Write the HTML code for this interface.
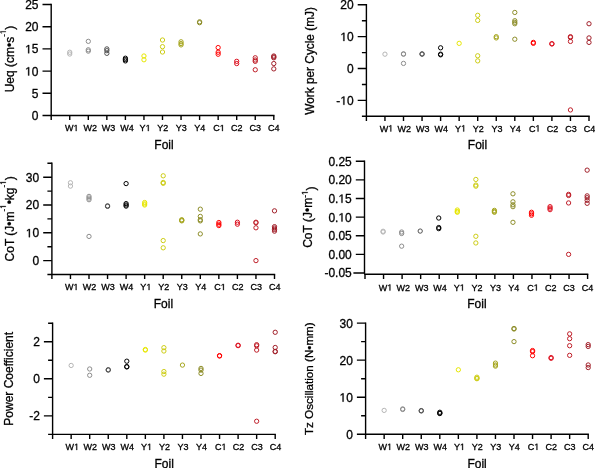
<!DOCTYPE html>
<html><head><meta charset="utf-8"><style>
html,body{margin:0;padding:0;background:#fff;}
body{width:595px;height:468px;overflow:hidden;}
svg{display:block;will-change:transform;font-family:"Liberation Sans",sans-serif;}
text{fill:#000;stroke:#000;stroke-width:0.3px;}
.one{fill-opacity:0;stroke-opacity:0;}
</style></head><body>
<svg width="595" height="468" viewBox="0 0 595 468">
<g fill="none" stroke="#000" stroke-width="1.4" stroke-linecap="butt"><path d="M51.2 3.8V115.5H274.5" /><path d="M42.5 115.5H51.2M42.5 93.3H51.2M42.5 71.1H51.2M42.5 48.9H51.2M42.5 26.7H51.2M42.5 4.5H51.2M51.2 115.5V120.1M69.75 115.5V120.1M88.3 115.5V120.1M106.85 115.5V120.1M125.4 115.5V120.1M143.95 115.5V120.1M162.5 115.5V120.1M181.05 115.5V120.1M199.6 115.5V120.1M218.15 115.5V120.1M236.7 115.5V120.1M255.25 115.5V120.1M273.8 115.5V120.1" /></g>
<g font-size="12"><text x="38.5" y="119.9" text-anchor="end">0</text><text x="38.5" y="97.7" text-anchor="end">5</text><text x="38.5" y="75.5" text-anchor="end"><tspan class="one">1</tspan>0</text><text x="38.5" y="53.3" text-anchor="end"><tspan class="one">1</tspan>5</text><text x="38.5" y="31.1" text-anchor="end">20</text><text x="38.5" y="8.9" text-anchor="end">25</text></g>
<g font-size="9" text-anchor="middle"><text x="71.75" y="131.1">W<tspan class="one">1</tspan></text><text x="90.21" y="131.1">W2</text><text x="108.58" y="131.1">W3</text><text x="127.11" y="131.1">W4</text><text x="145.12" y="131.1">Y<tspan class="one">1</tspan></text><text x="162.83" y="131.1">Y2</text><text x="181.3" y="131.1">Y3</text><text x="199.73" y="131.1">Y4</text><text x="219" y="131.1">C<tspan class="one">1</tspan></text><text x="236.8" y="131.1">C2</text><text x="255.27" y="131.1">C3</text><text x="273.8" y="131.1">C4</text></g>
<text x="164" y="149" font-size="12" text-anchor="middle">Foil</text>
<text transform="translate(13.6 59) rotate(-90)" x="0" y="0" font-size="12" text-anchor="middle"><tspan>Ueq (cm•s</tspan><tspan dy="-7.8" font-size="8">-<tspan class="one">1</tspan></tspan><tspan dy="7.8">)</tspan></text>
<g fill="none" stroke="#b4b4b4" stroke-width="1.0"><circle cx="69.75" cy="52.23" r="2.15"/><circle cx="69.75" cy="54.01" r="2.15"/></g>
<g fill="none" stroke="#8c8c8c" stroke-width="1.0"><circle cx="88.3" cy="41.35" r="2.15"/><circle cx="88.3" cy="49.79" r="2.15"/><circle cx="88.3" cy="51.12" r="2.15"/></g>
<g fill="none" stroke="#505050" stroke-width="1.0"><circle cx="106.85" cy="48.9" r="2.15"/><circle cx="106.85" cy="50.68" r="2.15"/><circle cx="106.85" cy="53.34" r="2.15"/></g>
<g fill="none" stroke="#000000" stroke-width="1.0"><circle cx="125.4" cy="58.22" r="2.15"/><circle cx="125.4" cy="59.56" r="2.15"/><circle cx="125.4" cy="60.89" r="2.15"/></g>
<g fill="none" stroke="#e6e600" stroke-width="1.0"><circle cx="143.95" cy="56" r="2.15"/><circle cx="143.95" cy="59.78" r="2.15"/></g>
<g fill="none" stroke="#cccc14" stroke-width="1.0"><circle cx="162.5" cy="40.02" r="2.15"/><circle cx="162.5" cy="46.68" r="2.15"/><circle cx="162.5" cy="52.01" r="2.15"/></g>
<g fill="none" stroke="#a5a51e" stroke-width="1.0"><circle cx="181.05" cy="41.8" r="2.15"/><circle cx="181.05" cy="43.57" r="2.15"/><circle cx="181.05" cy="44.9" r="2.15"/></g>
<g fill="none" stroke="#8c8c28" stroke-width="1.0"><circle cx="199.6" cy="21.82" r="2.15"/><circle cx="199.6" cy="22.7" r="2.15"/></g>
<g fill="none" stroke="#ff0000" stroke-width="1.0"><circle cx="218.15" cy="47.57" r="2.15"/><circle cx="218.15" cy="52.23" r="2.15"/><circle cx="218.15" cy="54.23" r="2.15"/></g>
<g fill="none" stroke="#dc0f1e" stroke-width="1.0"><circle cx="236.7" cy="61.33" r="2.15"/><circle cx="236.7" cy="63.55" r="2.15"/></g>
<g fill="none" stroke="#be1e28" stroke-width="1.0"><circle cx="255.25" cy="57.78" r="2.15"/><circle cx="255.25" cy="60" r="2.15"/><circle cx="255.25" cy="61.33" r="2.15"/><circle cx="255.25" cy="69.77" r="2.15"/></g>
<g fill="none" stroke="#a01e28" stroke-width="1.0"><circle cx="273.8" cy="56" r="2.15"/><circle cx="273.8" cy="56.89" r="2.15"/><circle cx="273.8" cy="57.78" r="2.15"/><circle cx="273.8" cy="63.55" r="2.15"/><circle cx="273.8" cy="68.88" r="2.15"/></g>
<g fill="none" stroke="#000" stroke-width="1.4" stroke-linecap="butt"><path d="M366.4 4.1V116.3H589.7" /><path d="M357.7 100.37H366.4M357.7 68.51H366.4M357.7 36.66H366.4M357.7 4.8H366.4M361.9 116.3H366.4M361.9 84.44H366.4M361.9 52.59H366.4M361.9 20.73H366.4M366.4 116.3V120.9M384.95 116.3V120.9M403.5 116.3V120.9M422.05 116.3V120.9M440.6 116.3V120.9M459.15 116.3V120.9M477.7 116.3V120.9M496.25 116.3V120.9M514.8 116.3V120.9M533.35 116.3V120.9M551.9 116.3V120.9M570.45 116.3V120.9M589 116.3V120.9" /></g>
<g font-size="12"><text x="353.7" y="104.77" text-anchor="end">-<tspan class="one">1</tspan>0</text><text x="353.7" y="72.91" text-anchor="end">0</text><text x="353.7" y="41.06" text-anchor="end"><tspan class="one">1</tspan>0</text><text x="353.7" y="9.2" text-anchor="end">20</text></g>
<g font-size="9" text-anchor="middle"><text x="386.45" y="131.5">W<tspan class="one">1</tspan></text><text x="404.26" y="131.5">W2</text><text x="422.78" y="131.5">W3</text><text x="441.26" y="131.5">W4</text><text x="460.57" y="131.5">Y<tspan class="one">1</tspan></text><text x="478.38" y="131.5">Y2</text><text x="496.9" y="131.5">Y3</text><text x="515.38" y="131.5">Y4</text><text x="534.64" y="131.5">C<tspan class="one">1</tspan></text><text x="552.45" y="131.5">C2</text><text x="570.97" y="131.5">C3</text><text x="589.45" y="131.5">C4</text></g>
<text x="477.5" y="148.9" font-size="12" text-anchor="middle">Foil</text>
<text transform="translate(313.6 60.95) rotate(-90)" x="0" y="0" font-size="11.85" text-anchor="middle"><tspan>Work per Cycle (mJ)</tspan></text>
<g fill="none" stroke="#b4b4b4" stroke-width="1.0"><circle cx="384.95" cy="54.18" r="2.15"/></g>
<g fill="none" stroke="#8c8c8c" stroke-width="1.0"><circle cx="403.5" cy="53.86" r="2.15"/><circle cx="403.5" cy="54.18" r="2.15"/><circle cx="403.5" cy="63.42" r="2.15"/></g>
<g fill="none" stroke="#505050" stroke-width="1.0"><circle cx="422.05" cy="53.86" r="2.15"/><circle cx="422.05" cy="54.18" r="2.15"/></g>
<g fill="none" stroke="#000000" stroke-width="1.0"><circle cx="440.6" cy="47.81" r="2.15"/><circle cx="440.6" cy="54.18" r="2.15"/><circle cx="440.6" cy="54.82" r="2.15"/></g>
<g fill="none" stroke="#e6e600" stroke-width="1.0"><circle cx="459.15" cy="43.35" r="2.15"/></g>
<g fill="none" stroke="#cccc14" stroke-width="1.0"><circle cx="477.7" cy="15.31" r="2.15"/><circle cx="477.7" cy="20.41" r="2.15"/><circle cx="477.7" cy="55.77" r="2.15"/><circle cx="477.7" cy="60.87" r="2.15"/></g>
<g fill="none" stroke="#a5a51e" stroke-width="1.0"><circle cx="496.25" cy="36.66" r="2.15"/><circle cx="496.25" cy="37.93" r="2.15"/></g>
<g fill="none" stroke="#8c8c28" stroke-width="1.0"><circle cx="514.8" cy="12.45" r="2.15"/><circle cx="514.8" cy="20.73" r="2.15"/><circle cx="514.8" cy="22.32" r="2.15"/><circle cx="514.8" cy="23.75" r="2.15"/><circle cx="514.8" cy="39.21" r="2.15"/></g>
<g fill="none" stroke="#ff0000" stroke-width="1.0"><circle cx="533.35" cy="42.39" r="2.15"/><circle cx="533.35" cy="43.35" r="2.15"/></g>
<g fill="none" stroke="#dc0f1e" stroke-width="1.0"><circle cx="551.9" cy="43.67" r="2.15"/><circle cx="551.9" cy="43.98" r="2.15"/></g>
<g fill="none" stroke="#be1e28" stroke-width="1.0"><circle cx="570.45" cy="36.66" r="2.15"/><circle cx="570.45" cy="37.45" r="2.15"/><circle cx="570.45" cy="41.44" r="2.15"/><circle cx="570.45" cy="109.93" r="2.15"/></g>
<g fill="none" stroke="#a01e28" stroke-width="1.0"><circle cx="589" cy="23.75" r="2.15"/><circle cx="589" cy="37.93" r="2.15"/><circle cx="589" cy="42.39" r="2.15"/></g>
<g fill="none" stroke="#000" stroke-width="1.4" stroke-linecap="butt"><path d="M51.9 162.6V274.5H275.2" /><path d="M43.2 260.6H51.9M43.2 232.8H51.9M43.2 205H51.9M43.2 177.2H51.9M47.4 274.5H51.9M47.4 246.7H51.9M47.4 218.9H51.9M47.4 191.1H51.9M47.4 163.3H51.9M51.9 274.5V279.1M70.45 274.5V279.1M89 274.5V279.1M107.55 274.5V279.1M126.1 274.5V279.1M144.65 274.5V279.1M163.2 274.5V279.1M181.75 274.5V279.1M200.3 274.5V279.1M218.85 274.5V279.1M237.4 274.5V279.1M255.95 274.5V279.1M274.5 274.5V279.1" /></g>
<g font-size="12"><text x="39.2" y="265" text-anchor="end">0</text><text x="39.2" y="237.2" text-anchor="end"><tspan class="one">1</tspan>0</text><text x="39.2" y="209.4" text-anchor="end">20</text><text x="39.2" y="181.6" text-anchor="end">30</text></g>
<g font-size="9" text-anchor="middle"><text x="71.7" y="290.1">W<tspan class="one">1</tspan></text><text x="89.52" y="290.1">W2</text><text x="108.05" y="290.1">W3</text><text x="126.55" y="290.1">W4</text><text x="145.88" y="290.1">Y<tspan class="one">1</tspan></text><text x="163.69" y="290.1">Y2</text><text x="182.22" y="290.1">Y3</text><text x="200.72" y="290.1">Y4</text><text x="220" y="290.1">C<tspan class="one">1</tspan></text><text x="237.81" y="290.1">C2</text><text x="256.34" y="290.1">C3</text><text x="274.84" y="290.1">C4</text></g>
<text x="163.4" y="308.3" font-size="12" text-anchor="middle">Foil</text>
<text transform="translate(13.6 218.9) rotate(-90)" x="0" y="0" font-size="12" text-anchor="middle"><tspan>CoT (J•m</tspan><tspan dy="-7.8" font-size="8">-<tspan class="one">1</tspan></tspan><tspan dy="7.8">•kg</tspan><tspan dy="-7.8" font-size="8">-<tspan class="one">1</tspan></tspan><tspan dy="7.8">)</tspan></text>
<g fill="none" stroke="#b4b4b4" stroke-width="1.0"><circle cx="70.45" cy="182.76" r="2.15"/><circle cx="70.45" cy="186.1" r="2.15"/></g>
<g fill="none" stroke="#8c8c8c" stroke-width="1.0"><circle cx="89" cy="196.38" r="2.15"/><circle cx="89" cy="198.05" r="2.15"/><circle cx="89" cy="199.72" r="2.15"/><circle cx="89" cy="236.41" r="2.15"/></g>
<g fill="none" stroke="#505050" stroke-width="1.0"><circle cx="107.55" cy="205.83" r="2.15"/><circle cx="107.55" cy="206.39" r="2.15"/></g>
<g fill="none" stroke="#000000" stroke-width="1.0"><circle cx="126.1" cy="183.59" r="2.15"/><circle cx="126.1" cy="203.61" r="2.15"/><circle cx="126.1" cy="205" r="2.15"/><circle cx="126.1" cy="206.11" r="2.15"/></g>
<g fill="none" stroke="#e6e600" stroke-width="1.0"><circle cx="144.65" cy="202.5" r="2.15"/><circle cx="144.65" cy="203.89" r="2.15"/><circle cx="144.65" cy="205" r="2.15"/></g>
<g fill="none" stroke="#cccc14" stroke-width="1.0"><circle cx="163.2" cy="175.81" r="2.15"/><circle cx="163.2" cy="182.48" r="2.15"/><circle cx="163.2" cy="183.32" r="2.15"/><circle cx="163.2" cy="240.58" r="2.15"/><circle cx="163.2" cy="247.81" r="2.15"/></g>
<g fill="none" stroke="#a5a51e" stroke-width="1.0"><circle cx="181.75" cy="219.73" r="2.15"/><circle cx="181.75" cy="220.29" r="2.15"/><circle cx="181.75" cy="220.85" r="2.15"/></g>
<g fill="none" stroke="#8c8c28" stroke-width="1.0"><circle cx="200.3" cy="209.17" r="2.15"/><circle cx="200.3" cy="216.4" r="2.15"/><circle cx="200.3" cy="219.73" r="2.15"/><circle cx="200.3" cy="220.85" r="2.15"/><circle cx="200.3" cy="233.91" r="2.15"/></g>
<g fill="none" stroke="#ff0000" stroke-width="1.0"><circle cx="218.85" cy="222.51" r="2.15"/><circle cx="218.85" cy="224.18" r="2.15"/><circle cx="218.85" cy="225.57" r="2.15"/></g>
<g fill="none" stroke="#dc0f1e" stroke-width="1.0"><circle cx="237.4" cy="222.24" r="2.15"/><circle cx="237.4" cy="224.18" r="2.15"/></g>
<g fill="none" stroke="#be1e28" stroke-width="1.0"><circle cx="255.95" cy="222.24" r="2.15"/><circle cx="255.95" cy="222.79" r="2.15"/><circle cx="255.95" cy="227.8" r="2.15"/><circle cx="255.95" cy="260.6" r="2.15"/></g>
<g fill="none" stroke="#a01e28" stroke-width="1.0"><circle cx="274.5" cy="210.84" r="2.15"/><circle cx="274.5" cy="226.68" r="2.15"/><circle cx="274.5" cy="228.07" r="2.15"/><circle cx="274.5" cy="229.46" r="2.15"/><circle cx="274.5" cy="231.13" r="2.15"/></g>
<g fill="none" stroke="#000" stroke-width="1.4" stroke-linecap="butt"><path d="M364.5 160.5V273.7M364.2 274.3H588.3" /><path d="M353.4 273H364.5M355.8 254.37H364.5M355.8 235.73H364.5M355.8 217.1H364.5M355.8 198.47H364.5M355.8 179.83H364.5M355.8 161.2H364.5M365 274.3V278.9M383.55 274.3V278.9M402.1 274.3V278.9M420.65 274.3V278.9M439.2 274.3V278.9M457.75 274.3V278.9M476.3 274.3V278.9M494.85 274.3V278.9M513.4 274.3V278.9M531.95 274.3V278.9M550.5 274.3V278.9M569.05 274.3V278.9M587.6 274.3V278.9" /></g>
<g font-size="12"><text x="351.8" y="277.4" text-anchor="end">-0.05</text><text x="351.8" y="258.77" text-anchor="end">0.00</text><text x="351.8" y="240.13" text-anchor="end">0.05</text><text x="351.8" y="221.5" text-anchor="end">0.<tspan class="one">1</tspan>0</text><text x="351.8" y="202.87" text-anchor="end">0.<tspan class="one">1</tspan>5</text><text x="351.8" y="184.23" text-anchor="end">0.20</text><text x="351.8" y="165.6" text-anchor="end">0.25</text></g>
<g font-size="9" text-anchor="middle"><text x="385.55" y="290.6">W<tspan class="one">1</tspan></text><text x="403.26" y="290.6">W2</text><text x="421.68" y="290.6">W3</text><text x="440.06" y="290.6">W4</text><text x="459.28" y="290.6">Y<tspan class="one">1</tspan></text><text x="476.98" y="290.6">Y2</text><text x="495.4" y="290.6">Y3</text><text x="513.78" y="290.6">Y4</text><text x="532.95" y="290.6">C<tspan class="one">1</tspan></text><text x="550.65" y="290.6">C2</text><text x="569.07" y="290.6">C3</text><text x="587.45" y="290.6">C4</text></g>
<text x="476.9" y="308" font-size="12" text-anchor="middle">Foil</text>
<text transform="translate(311.6 217.1) rotate(-90)" x="0" y="0" font-size="12" text-anchor="middle"><tspan>CoT (J•m</tspan><tspan dy="-3.9" font-size="8.4">-<tspan class="one">1</tspan></tspan><tspan dy="7.7">)</tspan></text>
<g fill="none" stroke="#b4b4b4" stroke-width="1.0"><circle cx="383.1" cy="231.26" r="2.15"/><circle cx="383.1" cy="232.01" r="2.15"/></g>
<g fill="none" stroke="#8c8c8c" stroke-width="1.0"><circle cx="401.65" cy="232.01" r="2.15"/><circle cx="401.65" cy="233.5" r="2.15"/><circle cx="401.65" cy="246.17" r="2.15"/></g>
<g fill="none" stroke="#505050" stroke-width="1.0"><circle cx="420.2" cy="231.07" r="2.15"/></g>
<g fill="none" stroke="#000000" stroke-width="1.0"><circle cx="438.75" cy="218.03" r="2.15"/><circle cx="438.75" cy="227.53" r="2.15"/><circle cx="438.75" cy="228.65" r="2.15"/></g>
<g fill="none" stroke="#e6e600" stroke-width="1.0"><circle cx="457.3" cy="210.02" r="2.15"/><circle cx="457.3" cy="211.51" r="2.15"/><circle cx="457.3" cy="212.26" r="2.15"/></g>
<g fill="none" stroke="#cccc14" stroke-width="1.0"><circle cx="475.85" cy="179.46" r="2.15"/><circle cx="475.85" cy="185.05" r="2.15"/><circle cx="475.85" cy="186.17" r="2.15"/><circle cx="475.85" cy="236.29" r="2.15"/><circle cx="475.85" cy="242.96" r="2.15"/></g>
<g fill="none" stroke="#a5a51e" stroke-width="1.0"><circle cx="494.4" cy="210.39" r="2.15"/><circle cx="494.4" cy="211.51" r="2.15"/><circle cx="494.4" cy="212.26" r="2.15"/></g>
<g fill="none" stroke="#8c8c28" stroke-width="1.0"><circle cx="512.95" cy="193.81" r="2.15"/><circle cx="512.95" cy="201.82" r="2.15"/><circle cx="512.95" cy="204.8" r="2.15"/><circle cx="512.95" cy="206.67" r="2.15"/><circle cx="512.95" cy="222.32" r="2.15"/></g>
<g fill="none" stroke="#ff0000" stroke-width="1.0"><circle cx="531.5" cy="212.26" r="2.15"/><circle cx="531.5" cy="213.75" r="2.15"/><circle cx="531.5" cy="215.24" r="2.15"/></g>
<g fill="none" stroke="#dc0f1e" stroke-width="1.0"><circle cx="550.05" cy="206.67" r="2.15"/><circle cx="550.05" cy="208.16" r="2.15"/><circle cx="550.05" cy="209.65" r="2.15"/></g>
<g fill="none" stroke="#be1e28" stroke-width="1.0"><circle cx="568.6" cy="194.37" r="2.15"/><circle cx="568.6" cy="195.49" r="2.15"/><circle cx="568.6" cy="202.94" r="2.15"/><circle cx="568.6" cy="254.37" r="2.15"/></g>
<g fill="none" stroke="#a01e28" stroke-width="1.0"><circle cx="587.15" cy="170.14" r="2.15"/><circle cx="587.15" cy="195.86" r="2.15"/><circle cx="587.15" cy="197.72" r="2.15"/><circle cx="587.15" cy="200.33" r="2.15"/><circle cx="587.15" cy="203.31" r="2.15"/></g>
<g fill="none" stroke="#000" stroke-width="1.4" stroke-linecap="butt"><path d="M52.6 322.5V434.4H275.9" /><path d="M43.9 415.87H52.6M43.9 378.8H52.6M43.9 341.73H52.6M48.1 434.4H52.6M48.1 397.33H52.6M48.1 360.27H52.6M48.1 323.2H52.6M52.6 434.4V439M71.15 434.4V439M89.7 434.4V439M108.25 434.4V439M126.8 434.4V439M145.35 434.4V439M163.9 434.4V439M182.45 434.4V439M201 434.4V439M219.55 434.4V439M238.1 434.4V439M256.65 434.4V439M275.2 434.4V439" /></g>
<g font-size="12"><text x="39.9" y="420.27" text-anchor="end">-2</text><text x="39.9" y="383.2" text-anchor="end">0</text><text x="39.9" y="346.13" text-anchor="end">2</text></g>
<g font-size="9" text-anchor="middle"><text x="72.35" y="450">W<tspan class="one">1</tspan></text><text x="90.18" y="450">W2</text><text x="108.73" y="450">W3</text><text x="127.24" y="450">W4</text><text x="146.57" y="450">Y<tspan class="one">1</tspan></text><text x="164.4" y="450">Y2</text><text x="182.95" y="450">Y3</text><text x="201.46" y="450">Y4</text><text x="220.75" y="450">C<tspan class="one">1</tspan></text><text x="238.57" y="450">C2</text><text x="257.12" y="450">C3</text><text x="275.63" y="450">C4</text></g>
<text x="164.2" y="468.4" font-size="12" text-anchor="middle">Foil</text>
<text transform="translate(13.2 378.8) rotate(-90)" x="0" y="0" font-size="12" text-anchor="middle"><tspan>Power Coefficient</tspan></text>
<g fill="none" stroke="#b4b4b4" stroke-width="1.0"><circle cx="71.15" cy="365.46" r="2.15"/></g>
<g fill="none" stroke="#8c8c8c" stroke-width="1.0"><circle cx="89.7" cy="368.98" r="2.15"/><circle cx="89.7" cy="375.28" r="2.15"/></g>
<g fill="none" stroke="#505050" stroke-width="1.0"><circle cx="108.25" cy="369.72" r="2.15"/><circle cx="108.25" cy="370.09" r="2.15"/></g>
<g fill="none" stroke="#000000" stroke-width="1.0"><circle cx="126.8" cy="361.19" r="2.15"/><circle cx="126.8" cy="366.57" r="2.15"/><circle cx="126.8" cy="366.94" r="2.15"/></g>
<g fill="none" stroke="#e6e600" stroke-width="1.0"><circle cx="145.35" cy="349.52" r="2.15"/><circle cx="145.35" cy="350.07" r="2.15"/></g>
<g fill="none" stroke="#cccc14" stroke-width="1.0"><circle cx="163.9" cy="347.66" r="2.15"/><circle cx="163.9" cy="351" r="2.15"/><circle cx="163.9" cy="371.57" r="2.15"/><circle cx="163.9" cy="374.17" r="2.15"/></g>
<g fill="none" stroke="#a5a51e" stroke-width="1.0"><circle cx="182.45" cy="365.09" r="2.15"/></g>
<g fill="none" stroke="#8c8c28" stroke-width="1.0"><circle cx="201" cy="368.42" r="2.15"/><circle cx="201" cy="370.09" r="2.15"/><circle cx="201" cy="373.43" r="2.15"/></g>
<g fill="none" stroke="#ff0000" stroke-width="1.0"><circle cx="219.55" cy="355.63" r="2.15"/><circle cx="219.55" cy="356" r="2.15"/></g>
<g fill="none" stroke="#dc0f1e" stroke-width="1.0"><circle cx="238.1" cy="345.25" r="2.15"/><circle cx="238.1" cy="345.63" r="2.15"/></g>
<g fill="none" stroke="#be1e28" stroke-width="1.0"><circle cx="256.65" cy="344.7" r="2.15"/><circle cx="256.65" cy="345.81" r="2.15"/><circle cx="256.65" cy="350.07" r="2.15"/><circle cx="256.65" cy="421.24" r="2.15"/></g>
<g fill="none" stroke="#a01e28" stroke-width="1.0"><circle cx="275.2" cy="332.28" r="2.15"/><circle cx="275.2" cy="347.48" r="2.15"/><circle cx="275.2" cy="351.37" r="2.15"/><circle cx="275.2" cy="351.74" r="2.15"/></g>
<g fill="none" stroke="#000" stroke-width="1.4" stroke-linecap="butt"><path d="M365.6 322.4V434.3H588.9" /><path d="M356.9 434.3H365.6M356.9 397.23H365.6M356.9 360.17H365.6M356.9 323.1H365.6M361.1 415.77H365.6M361.1 378.7H365.6M361.1 341.63H365.6M365.6 434.3V438.9M384.15 434.3V438.9M402.7 434.3V438.9M421.25 434.3V438.9M439.8 434.3V438.9M458.35 434.3V438.9M476.9 434.3V438.9M495.45 434.3V438.9M514 434.3V438.9M532.55 434.3V438.9M551.1 434.3V438.9M569.65 434.3V438.9M588.2 434.3V438.9" /></g>
<g font-size="12"><text x="352.9" y="438.7" text-anchor="end">0</text><text x="352.9" y="401.63" text-anchor="end"><tspan class="one">1</tspan>0</text><text x="352.9" y="364.57" text-anchor="end">20</text><text x="352.9" y="327.5" text-anchor="end">30</text></g>
<g font-size="9" text-anchor="middle"><text x="385.35" y="449.9">W<tspan class="one">1</tspan></text><text x="403.16" y="449.9">W2</text><text x="421.68" y="449.9">W3</text><text x="440.16" y="449.9">W4</text><text x="459.47" y="449.9">Y<tspan class="one">1</tspan></text><text x="477.28" y="449.9">Y2</text><text x="495.8" y="449.9">Y3</text><text x="514.28" y="449.9">Y4</text><text x="533.54" y="449.9">C<tspan class="one">1</tspan></text><text x="551.35" y="449.9">C2</text><text x="569.87" y="449.9">C3</text><text x="588.35" y="449.9">C4</text></g>
<text x="477.1" y="468.2" font-size="12" text-anchor="middle">Foil</text>
<text transform="translate(313 378.7) rotate(-90)" x="0" y="0" font-size="11.65" text-anchor="middle"><tspan>Tz Oscillation (N•mm)</tspan></text>
<g fill="none" stroke="#b4b4b4" stroke-width="1.0"><circle cx="384.15" cy="410.39" r="2.15"/></g>
<g fill="none" stroke="#8c8c8c" stroke-width="1.0"><circle cx="402.7" cy="408.91" r="2.15"/><circle cx="402.7" cy="409.47" r="2.15"/></g>
<g fill="none" stroke="#505050" stroke-width="1.0"><circle cx="421.25" cy="410.58" r="2.15"/><circle cx="421.25" cy="410.95" r="2.15"/></g>
<g fill="none" stroke="#000000" stroke-width="1.0"><circle cx="439.8" cy="412.25" r="2.15"/><circle cx="439.8" cy="413.17" r="2.15"/><circle cx="439.8" cy="413.54" r="2.15"/></g>
<g fill="none" stroke="#e6e600" stroke-width="1.0"><circle cx="458.35" cy="369.8" r="2.15"/></g>
<g fill="none" stroke="#cccc14" stroke-width="1.0"><circle cx="476.9" cy="377.22" r="2.15"/><circle cx="476.9" cy="378.33" r="2.15"/><circle cx="476.9" cy="378.7" r="2.15"/></g>
<g fill="none" stroke="#a5a51e" stroke-width="1.0"><circle cx="495.45" cy="363.13" r="2.15"/><circle cx="495.45" cy="364.99" r="2.15"/><circle cx="495.45" cy="366.1" r="2.15"/></g>
<g fill="none" stroke="#8c8c28" stroke-width="1.0"><circle cx="514" cy="328.47" r="2.15"/><circle cx="514" cy="329.03" r="2.15"/><circle cx="514" cy="341.63" r="2.15"/></g>
<g fill="none" stroke="#ff0000" stroke-width="1.0"><circle cx="532.55" cy="350.53" r="2.15"/><circle cx="532.55" cy="351.64" r="2.15"/><circle cx="532.55" cy="355.72" r="2.15"/></g>
<g fill="none" stroke="#dc0f1e" stroke-width="1.0"><circle cx="551.1" cy="357.57" r="2.15"/><circle cx="551.1" cy="358.31" r="2.15"/></g>
<g fill="none" stroke="#be1e28" stroke-width="1.0"><circle cx="569.65" cy="333.85" r="2.15"/><circle cx="569.65" cy="338.67" r="2.15"/><circle cx="569.65" cy="345.71" r="2.15"/><circle cx="569.65" cy="355.35" r="2.15"/></g>
<g fill="none" stroke="#a01e28" stroke-width="1.0"><circle cx="588.2" cy="344.6" r="2.15"/><circle cx="588.2" cy="346.45" r="2.15"/><circle cx="588.2" cy="364.99" r="2.15"/><circle cx="588.2" cy="367.58" r="2.15"/></g>
<g fill="#000" stroke="#000"><path transform="translate(25.12 75.5) scale(0.005859 -0.005859)" stroke-width="51.2" d="M515 0L515 1237L197 1010L197 1180L530 1409L696 1409L696 0Z"/><path transform="translate(25.12 53.3) scale(0.005859 -0.005859)" stroke-width="51.2" d="M515 0L515 1237L197 1010L197 1180L530 1409L696 1409L696 0Z"/><path transform="translate(73.49 131.1) scale(0.004395 -0.004395)" stroke-width="68.3" d="M515 0L515 1237L197 1010L197 1180L530 1409L696 1409L696 0Z"/><path transform="translate(145.62 131.1) scale(0.004395 -0.004395)" stroke-width="68.3" d="M515 0L515 1237L197 1010L197 1180L530 1409L696 1409L696 0Z"/><path transform="translate(219.74 131.1) scale(0.004395 -0.004395)" stroke-width="68.3" d="M515 0L515 1237L197 1010L197 1180L530 1409L696 1409L696 0Z"/><path transform="translate(13.6 59) rotate(-90) translate(24.88 -7.8) scale(0.003906 -0.003906)" stroke-width="76.8" d="M515 0L515 1237L197 1010L197 1180L530 1409L696 1409L696 0Z"/><path transform="translate(340.33 104.77) scale(0.005859 -0.005859)" stroke-width="51.2" d="M515 0L515 1237L197 1010L197 1180L530 1409L696 1409L696 0Z"/><path transform="translate(340.33 41.06) scale(0.005859 -0.005859)" stroke-width="51.2" d="M515 0L515 1237L197 1010L197 1180L530 1409L696 1409L696 0Z"/><path transform="translate(388.19 131.5) scale(0.004395 -0.004395)" stroke-width="68.3" d="M515 0L515 1237L197 1010L197 1180L530 1409L696 1409L696 0Z"/><path transform="translate(461.07 131.5) scale(0.004395 -0.004395)" stroke-width="68.3" d="M515 0L515 1237L197 1010L197 1180L530 1409L696 1409L696 0Z"/><path transform="translate(535.38 131.5) scale(0.004395 -0.004395)" stroke-width="68.3" d="M515 0L515 1237L197 1010L197 1180L530 1409L696 1409L696 0Z"/><path transform="translate(25.83 237.2) scale(0.005859 -0.005859)" stroke-width="51.2" d="M515 0L515 1237L197 1010L197 1180L530 1409L696 1409L696 0Z"/><path transform="translate(73.44 290.1) scale(0.004395 -0.004395)" stroke-width="68.3" d="M515 0L515 1237L197 1010L197 1180L530 1409L696 1409L696 0Z"/><path transform="translate(146.38 290.1) scale(0.004395 -0.004395)" stroke-width="68.3" d="M515 0L515 1237L197 1010L197 1180L530 1409L696 1409L696 0Z"/><path transform="translate(220.74 290.1) scale(0.004395 -0.004395)" stroke-width="68.3" d="M515 0L515 1237L197 1010L197 1180L530 1409L696 1409L696 0Z"/><path transform="translate(13.6 218.9) rotate(-90) translate(10.1 -7.8) scale(0.003906 -0.003906)" stroke-width="76.8" d="M515 0L515 1237L197 1010L197 1180L530 1409L696 1409L696 0Z"/><path transform="translate(13.6 218.9) rotate(-90) translate(34.1 -7.8) scale(0.003906 -0.003906)" stroke-width="76.8" d="M515 0L515 1237L197 1010L197 1180L530 1409L696 1409L696 0Z"/><path transform="translate(338.42 221.5) scale(0.005859 -0.005859)" stroke-width="51.2" d="M515 0L515 1237L197 1010L197 1180L530 1409L696 1409L696 0Z"/><path transform="translate(338.42 202.87) scale(0.005859 -0.005859)" stroke-width="51.2" d="M515 0L515 1237L197 1010L197 1180L530 1409L696 1409L696 0Z"/><path transform="translate(387.29 290.6) scale(0.004395 -0.004395)" stroke-width="68.3" d="M515 0L515 1237L197 1010L197 1180L530 1409L696 1409L696 0Z"/><path transform="translate(459.78 290.6) scale(0.004395 -0.004395)" stroke-width="68.3" d="M515 0L515 1237L197 1010L197 1180L530 1409L696 1409L696 0Z"/><path transform="translate(533.69 290.6) scale(0.004395 -0.004395)" stroke-width="68.3" d="M515 0L515 1237L197 1010L197 1180L530 1409L696 1409L696 0Z"/><path transform="translate(311.6 217.1) rotate(-90) translate(22.05 -3.9) scale(0.004102 -0.004102)" stroke-width="73.1" d="M515 0L515 1237L197 1010L197 1180L530 1409L696 1409L696 0Z"/><path transform="translate(74.09 450) scale(0.004395 -0.004395)" stroke-width="68.3" d="M515 0L515 1237L197 1010L197 1180L530 1409L696 1409L696 0Z"/><path transform="translate(147.07 450) scale(0.004395 -0.004395)" stroke-width="68.3" d="M515 0L515 1237L197 1010L197 1180L530 1409L696 1409L696 0Z"/><path transform="translate(221.49 450) scale(0.004395 -0.004395)" stroke-width="68.3" d="M515 0L515 1237L197 1010L197 1180L530 1409L696 1409L696 0Z"/><path transform="translate(339.52 401.63) scale(0.005859 -0.005859)" stroke-width="51.2" d="M515 0L515 1237L197 1010L197 1180L530 1409L696 1409L696 0Z"/><path transform="translate(387.09 449.9) scale(0.004395 -0.004395)" stroke-width="68.3" d="M515 0L515 1237L197 1010L197 1180L530 1409L696 1409L696 0Z"/><path transform="translate(459.97 449.9) scale(0.004395 -0.004395)" stroke-width="68.3" d="M515 0L515 1237L197 1010L197 1180L530 1409L696 1409L696 0Z"/><path transform="translate(534.28 449.9) scale(0.004395 -0.004395)" stroke-width="68.3" d="M515 0L515 1237L197 1010L197 1180L530 1409L696 1409L696 0Z"/></g>
</svg>
</body></html>
